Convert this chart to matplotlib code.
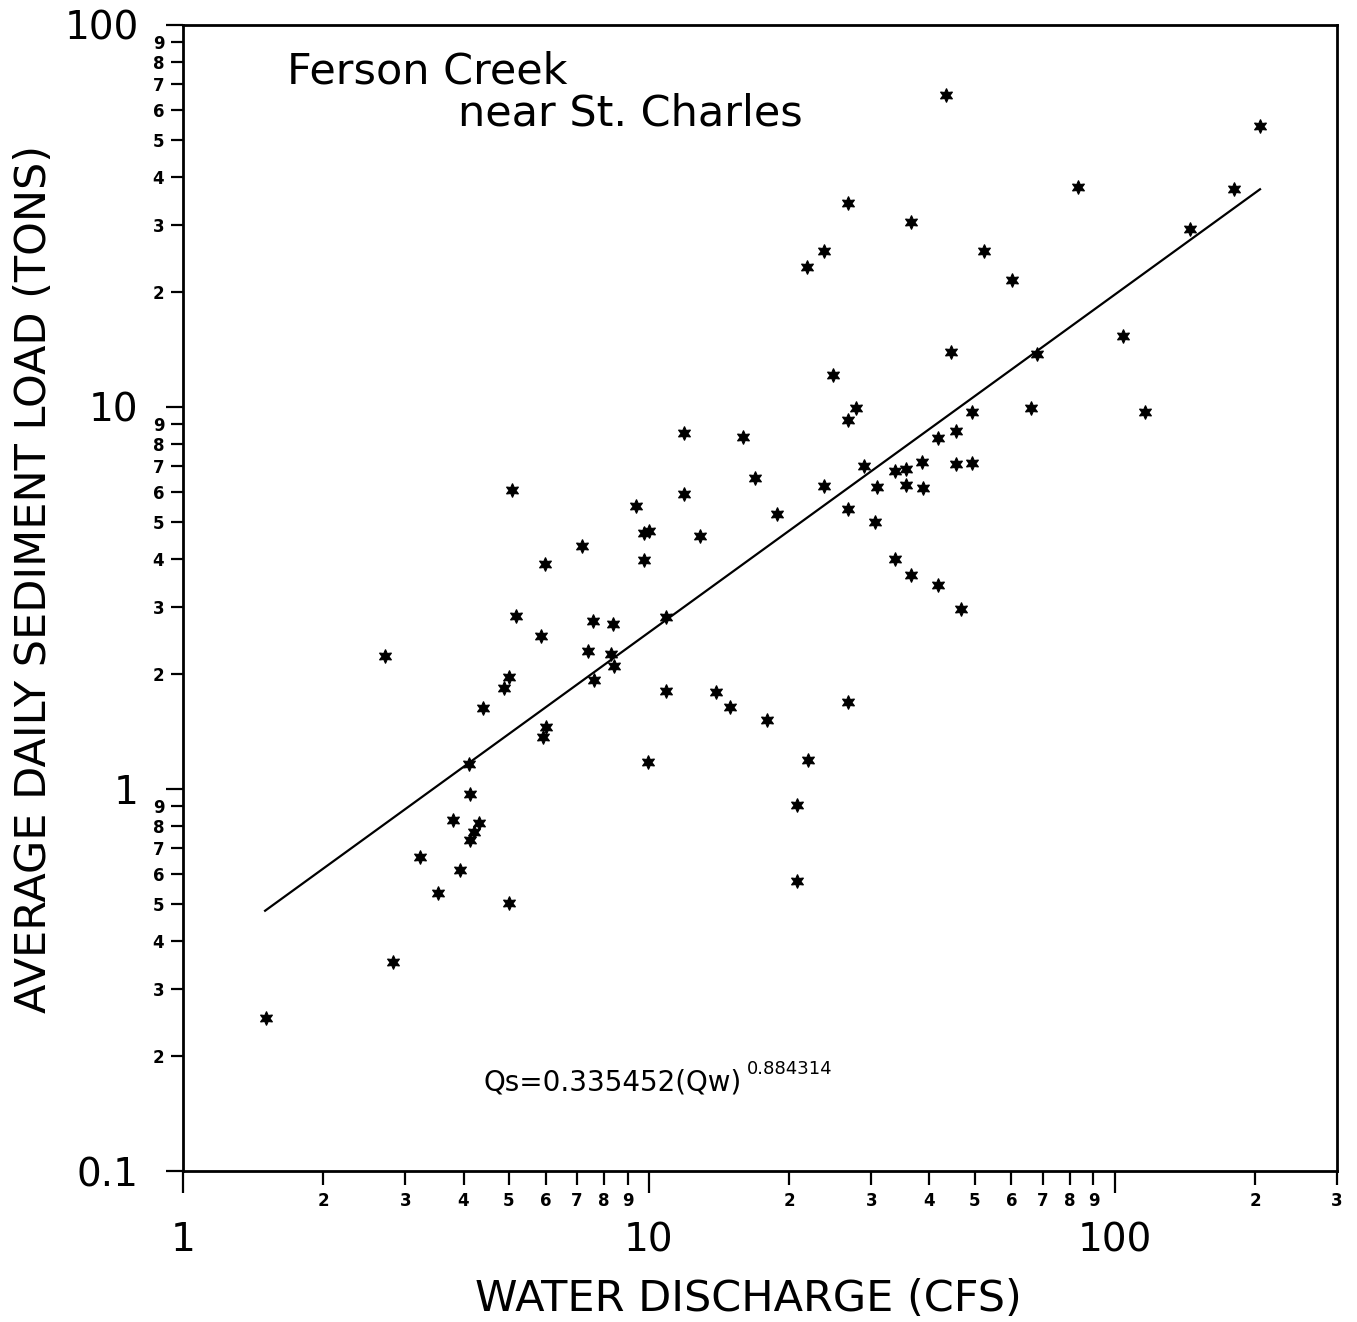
import matplotlib
matplotlib.use("Agg")
import numpy as np
import matplotlib.pyplot as plt
from matplotlib.ticker import FixedLocator, FixedFormatter

# water discharge (cfs) and average daily sediment load (tons)
qw = [1.51, 2.71, 2.82, 3.22, 3.52, 3.80, 3.94, 4.10, 4.12, 4.12, 4.22, 4.32,
      4.41, 4.89, 5.01, 5.01, 5.09, 5.19, 5.87, 5.99, 5.93, 6.00, 7.19, 7.40,
      7.59, 7.62, 8.37, 8.29, 8.40, 9.38, 9.75, 9.75, 9.99, 9.94, 10.9, 10.9,
      11.9, 11.9, 12.9, 13.9, 14.9, 15.9, 16.9, 17.9, 18.8, 20.8, 20.8, 21.8,
      21.9, 23.8, 23.8, 24.9, 26.7, 26.8, 27.8, 26.8, 26.8, 28.9, 30.8, 30.6,
      33.8, 33.8, 35.7, 35.7, 36.6, 36.6, 38.6, 38.8, 41.8, 41.8, 43.5, 44.5,
      45.7, 45.7, 46.8, 49.4, 49.4, 52.4, 60.2, 66.1, 68.1, 83.3, 104, 116,
      145, 180, 205]
qs = [0.251, 2.23, 0.352, 0.664, 0.534, 0.829, 0.614, 1.16, 0.97, 0.735, 0.772, 0.815,
      1.63, 1.84, 1.96, 0.503, 6.06, 2.84, 2.51, 3.88, 1.37, 1.45, 4.33, 2.30,
      2.75, 1.93, 2.70, 2.26, 2.10, 5.51, 3.98, 4.68, 4.74, 1.18, 2.82, 1.81,
      8.55, 5.92, 4.60, 1.79, 1.64, 8.35, 6.52, 1.52, 5.25, 0.908, 0.574, 23.3,
      1.19, 25.6, 6.21, 12.1, 34.2, 9.25, 9.94, 5.41, 1.69, 7.01, 6.17, 5.00,
      4.00, 6.80, 6.87, 6.25, 30.5, 3.63, 7.18, 6.15, 8.30, 3.42, 65.6, 13.9,
      8.65, 7.09, 2.96, 9.70, 7.13, 25.6, 21.5, 9.94, 13.8, 37.7, 15.3, 9.70,
      29.2, 37.2, 54.4]

# rating curve Qs = a * Qw^b
coef_a = 0.335452
coef_b = 0.884314
fit_range = [1.5, 205]

x_major = [1, 10, 100]
x_major_labels = ["1", "10", "100"]
x_minor = [2, 3, 4, 5, 6, 7, 8, 9, 20, 30, 40, 50, 60, 70, 80, 90, 200, 300]
x_minor_labels = ["2", "3", "4", "5", "6", "7", "8", "9",
                  "2", "3", "4", "5", "6", "7", "8", "9", "2", "3"]
y_major = [0.1, 1, 10, 100]
y_major_labels = ["0.1", "1", "10", "100"]
y_minor = [0.2, 0.3, 0.4, 0.5, 0.6, 0.7, 0.8, 0.9,
           2, 3, 4, 5, 6, 7, 8, 9, 20, 30, 40, 50, 60, 70, 80, 90]
y_minor_labels = ["2", "3", "4", "5", "6", "7", "8", "9"] * 3

fig = plt.figure(figsize=(13.57, 13.22), dpi=100)
ax = fig.add_axes([0.1349, 0.1142, 0.8504, 0.8669])
ax.set_xscale("log")
ax.set_yscale("log")
ax.set_xlim(1, 300)
ax.set_ylim(0.1, 100)

ax.plot(qw, qs, linestyle="none", marker=(6, 1, 0), markersize=10,
        color="black", markeredgewidth=0.8)

xf = np.array(fit_range)
ax.plot(xf, coef_a * xf ** coef_b, color="black", linewidth=1.6)

for s in ax.spines.values():
    s.set_linewidth(2.0)

ax.xaxis.set_major_locator(FixedLocator(x_major))
ax.xaxis.set_major_formatter(FixedFormatter(x_major_labels))
ax.xaxis.set_minor_locator(FixedLocator(x_minor))
ax.xaxis.set_minor_formatter(FixedFormatter(x_minor_labels))
ax.yaxis.set_major_locator(FixedLocator(y_major))
ax.yaxis.set_major_formatter(FixedFormatter(y_major_labels))
ax.yaxis.set_minor_locator(FixedLocator(y_minor))
ax.yaxis.set_minor_formatter(FixedFormatter(y_minor_labels))

ax.tick_params(axis="x", which="major", direction="out", length=16, width=1.6,
               pad=20, labelsize=28)
ax.tick_params(axis="x", which="minor", direction="out", length=10, width=1.6,
               pad=5, labelsize=12)
ax.tick_params(axis="y", which="major", direction="out", length=12, width=1.6,
               pad=20, labelsize=28)
ax.tick_params(axis="y", which="minor", direction="out", length=8.5, width=1.6,
               pad=5, labelsize=12)
for lab in ax.xaxis.get_minorticklabels() + ax.yaxis.get_minorticklabels():
    lab.set_fontweight("bold")

ax.set_xlabel("WATER DISCHARGE (CFS)", fontsize=31)
ax.set_ylabel("AVERAGE DAILY SEDIMENT LOAD (TONS)", fontsize=31)
ax.xaxis.set_label_coords(0.49, -0.093)
ax.yaxis.set_label_coords(-0.111, 0.517)

ax.text(0.09, 0.959, "Ferson Creek", transform=ax.transAxes, fontsize=31,
        va="center", ha="left")
ax.text(0.238, 0.923, "near St. Charles", transform=ax.transAxes, fontsize=31,
        va="center", ha="left")

ax.text(0.26, 0.077, "Qs=0.335452(Qw)", transform=ax.transAxes, fontsize=20,
        va="center", ha="left")
ax.text(0.489, 0.089, "0.884314", transform=ax.transAxes, fontsize=13,
        va="center", ha="left")

fig.savefig("out.png", dpi=100)
